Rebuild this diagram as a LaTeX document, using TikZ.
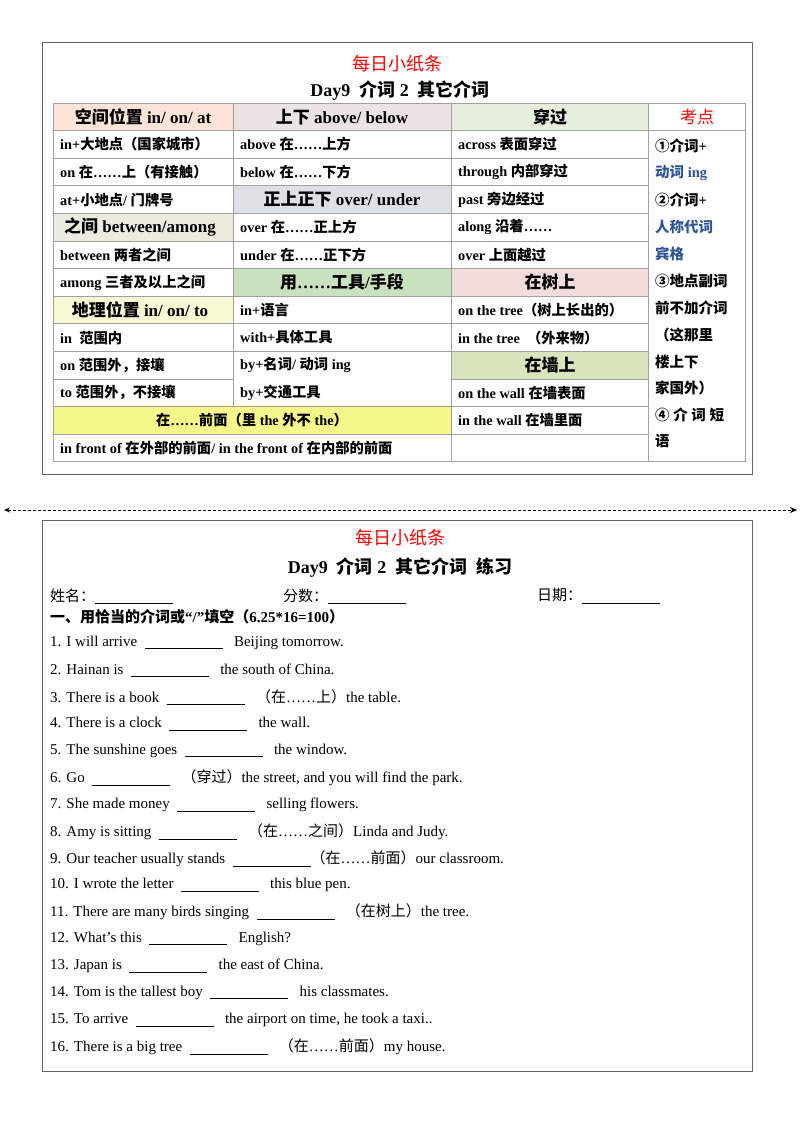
\documentclass[tikz,border=0pt]{standalone}
\usepackage{fontspec}
\setmainfont{Liberation Serif}
\newfontfamily\cjkfam{Noto Sans CJK SC}
\XeTeXinterchartokenstate=1
\newXeTeXintercharclass\CJKcls
\newcount\cc
\def\setcls#1#2{\cc=#1 \loop\ifnum\cc<#2 \XeTeXcharclass\cc=\CJKcls \advance\cc by 1 \repeat}
\setcls{"2460}{"24FF}
\setcls{"3000}{"3040}
\setcls{"4E00}{"A000}
\setcls{"FF00}{"FFF0}
\XeTeXinterchartoks 0 \CJKcls {\begingroup\cjkfam}
\XeTeXinterchartoks 4095 \CJKcls {\begingroup\cjkfam}
\XeTeXinterchartoks \CJKcls 0 {\endgroup}
\XeTeXinterchartoks \CJKcls 4095 {\endgroup}
\usetikzlibrary{arrows.meta}
\definecolor{cpeach}{HTML}{FCE4D6}
\definecolor{cpinkgray}{HTML}{ECE3E3}
\definecolor{clgreen}{HTML}{E6EFDC}
\definecolor{cgray}{HTML}{DDE1E6}
\definecolor{cbeige}{HTML}{EBEBE0}
\definecolor{cgreen}{HTML}{C8E2C0}
\definecolor{cpink}{HTML}{F2DCDB}
\definecolor{cpaley}{HTML}{F5F8D3}
\definecolor{cwall}{HTML}{D8E4BC}
\definecolor{cyel}{HTML}{F5F78A}
\definecolor{cblue}{HTML}{2F5597}
\definecolor{grid}{HTML}{A0A0A0}
\tikzset{
 body/.style={anchor=west,font=\fontsize{14.3}{16}\selectfont\bfseries,inner sep=0pt},
 hdr/.style={anchor=center,font=\fontsize{17}{19}\selectfont\bfseries,inner sep=0pt},
 side/.style={anchor=west,font=\fontsize{14.5}{16}\selectfont\bfseries,inner sep=0pt},
 item/.style={anchor=west,font=\fontsize{15}{17}\selectfont,inner sep=0pt},
 frame/.style={draw=black!60,line width=0.9pt},
 gl/.style={draw=grid,line width=0.9pt},
}
\newcommand{\blank}[1][78]{\rule[-2.5pt]{#1pt}{0.6pt}}
\begin{document}
\begin{tikzpicture}[x=1pt,y=-1pt]
\useasboundingbox (0,0) rectangle (800,1132);
\fill[white] (0,0) rectangle (800,1132);
\def\R#1{{103+27.6*(#1)}}
% upper frame
\draw[frame] (42,42) rectangle (752,474);
\node[text=red,font=\fontsize{18}{20}\selectfont] (t1) at (397,64) {每日小纸条};
\node[font=\fontsize{18}{20}\selectfont\bfseries] (t2) at (400,91) {Day9\ \ 介词 2\ \ 其它介词};
% fills
\fill[cpeach] (53,\R{0}) rectangle (233,\R{1});
\fill[cpinkgray] (233,\R{0}) rectangle (451,\R{1});
\fill[clgreen] (451,\R{0}) rectangle (648,\R{1});
\fill[cgray] (233,\R{3}) rectangle (451,\R{4});
\fill[cbeige] (53,\R{4}) rectangle (233,\R{5});
\fill[cgreen] (233,\R{6}) rectangle (451,\R{7});
\fill[cpink] (451,\R{6}) rectangle (648,\R{7});
\fill[cpaley] (53,\R{7}) rectangle (233,\R{8});
\fill[cwall] (451,\R{9}) rectangle (648,\R{10});
\fill[cyel] (53,\R{11}) rectangle (451,\R{12});
% grid
\foreach \i in {0,1,...,9,11,12,13} \draw[gl] (53,\R{\i}) -- (648,\R{\i});
\draw[gl] (53,\R{10}) -- (233,\R{10});
\draw[gl] (451,\R{10}) -- (648,\R{10});
\foreach \i in {0,1,13} \draw[gl] (648,\R{\i}) -- (745,\R{\i});
\draw[gl] (53,\R{0}) -- (53,\R{13});
\draw[gl] (233,\R{0}) -- (233,\R{11});
\draw[gl] (451,\R{0}) -- (451,\R{13});
\draw[gl] (648,\R{0}) -- (648,\R{13});
\draw[gl] (745,\R{0}) -- (745,\R{13});
% headers
\node[hdr] (h1) at (143,{103+27.6*0.5}) {空间位置 in/ on/ at};
\node[hdr] (h2) at (342,{103+27.6*0.5}) {上下 above/ below};
\node[hdr] (h3) at (550,{103+27.6*0.5}) {穿过};
\node[hdr,text=red,font=\fontsize{17}{19}\selectfont] (h4) at (697,{103+27.6*0.5}) {考点};
\node[hdr] (h5) at (342,{103+27.6*3.5}) {正上正下 over/ under};
\node[hdr] (h6) at (140,{103+27.6*4.5}) {之间 between/among};
\node[hdr] (h7) at (342,{103+27.6*6.5}) {用……工具/手段};
\node[hdr] (h8) at (550,{103+27.6*6.5}) {在树上};
\node[hdr] (h9) at (140,{103+27.6*7.5}) {地理位置 in/ on/ to};
\node[hdr] (h10) at (550,{103+27.6*9.5}) {在墙上};
\node[body,anchor=center] (h11) at (252,{103+27.6*11.5}) {在……前面（里 the 外不 the）};
% col1
\node[body] (a1) at (60,{103+27.6*1.5}) {in+大地点（国家城市）};
\node[body] (a2) at (60,{103+27.6*2.5}) {on 在……上（有接触）};
\node[body] (a3) at (60,{103+27.6*3.5}) {at+小地点/ 门牌号};
\node[body] (a5) at (60,{103+27.6*5.5}) {between 两者之间};
\node[body] (a6) at (60,{103+27.6*6.5}) {among 三者及以上之间};
\node[body] (a8) at (60,{103+27.6*8.5}) {in\ \ 范围内};
\node[body] (a9) at (60,{103+27.6*9.5}) {on 范围外，接壤};
\node[body] (a10) at (60,{103+27.6*10.5}) {to 范围外，不接壤};
\node[body] (a12) at (60,{103+27.6*12.5}) {in front of 在外部的前面/ in the front of 在内部的前面};
% col2
\node[body] (b1) at (240,{103+27.6*1.5}) {above 在……上方};
\node[body] (b2) at (240,{103+27.6*2.5}) {below 在……下方};
\node[body] (b4) at (240,{103+27.6*4.5}) {over 在……正上方};
\node[body] (b5) at (240,{103+27.6*5.5}) {under 在……正下方};
\node[body] (b7) at (240,{103+27.6*7.5}) {in+语言};
\node[body] (b8) at (240,{103+27.6*8.5}) {with+具体工具};
\node[body] (b9) at (240,{103+27.6*9.5}) {by+名词/ 动词 ing};
\node[body] (b10) at (240,{103+27.6*10.5}) {by+交通工具};
% col3
\node[body] (c1) at (458,{103+27.6*1.5}) {across 表面穿过};
\node[body] (c2) at (458,{103+27.6*2.5}) {through 内部穿过};
\node[body] (c3) at (458,{103+27.6*3.5}) {past 旁边经过};
\node[body] (c4) at (458,{103+27.6*4.5}) {along 沿着……};
\node[body] (c5) at (458,{103+27.6*5.5}) {over 上面越过};
\node[body] (c7) at (458,{103+27.6*7.5}) {on the tree（树上长出的）};
\node[body] (c8) at (458,{103+27.6*8.5}) {in the tree\ \ （外来物）};
\node[body] (c10) at (458,{103+27.6*10.5}) {on the wall 在墙表面};
\node[body] (c11) at (458,{103+27.6*11.5}) {in the wall 在墙里面};
% col4
\node[side] (d1) at (655,146) {①介词+};
\node[side,text=cblue] (d2) at (655,173) {动词 ing};
\node[side] (d3) at (655,200) {②介词+};
\node[side,text=cblue] (d4) at (655,227) {人称代词};
\node[side,text=cblue] (d5) at (655,254) {宾格};
\node[side] (d6) at (655,281) {③地点副词};
\node[side] (d7) at (655,308) {前不加介词};
\node[side] (d8) at (655,335) {（这那里};
\node[side] (d9) at (655,362) {楼上下};
\node[side] (d10) at (655,388) {家国外）};
\node[side] (d11) at (655,415) {④\ 介\ 词\ 短};
\node[side] (d12) at (655,441) {语};
% separator
\coordinate (sl) at (4,510);
\coordinate (sr) at (797,510);
\draw[densely dashed,line width=0.7pt,{Stealth[length=6pt,width=5pt]}-{Stealth[length=7pt,width=6pt]}] (sl) -- (sr);
% lower frame
\draw[frame] (42,520) rectangle (752,1071);
\node[text=red,font=\fontsize{18}{20}\selectfont] (u1) at (400,538) {每日小纸条};
\node[font=\fontsize{18}{20}\selectfont\bfseries] (u2) at (400,568) {Day9\ \ 介词 2\ \ 其它介词\ \ 练习};
\node[item] (n1) at (50,596) {姓名：\blank};
\node[item] (n2) at (283,596) {分数：\blank};
\node[item] (n3) at (537,596) {日期：\blank};
\node[item,font=\fontsize{15}{17}\selectfont\bfseries] (q0) at (50,617) {一、用恰当的介词或“/”填空（6.25*16=100）};
\node[item] (q1) at (50,643) {1. I will arrive\ \ \blank\ \ \ Beijing tomorrow.};
\node[item] (q2) at (50,670) {2. Hainan is\ \ \blank\ \ \ the south of China.};
\node[item] (q3) at (50,697) {3. There is a book\ \ \blank\ \ \ （在……上）the table.};
\node[item] (q4) at (50,724) {4. There is a clock\ \ \blank\ \ \ the wall.};
\node[item] (q5) at (50,751) {5. The sunshine goes\ \ \blank\ \ \ the window.};
\node[item] (q6) at (50,778) {6. Go\ \ \blank\ \ \ （穿过）the street, and you will find the park.};
\node[item] (q7) at (50,805) {7. She made money\ \ \blank\ \ \ selling flowers.};
\node[item] (q8) at (50,832) {8. Amy is sitting\ \ \blank\ \ \ （在……之间）Linda and Judy.};
\node[item] (q9) at (50,859) {9. Our teacher usually stands\ \ \blank（在……前面）our classroom.};
\node[item] (q10) at (50,885) {10. I wrote the letter\ \ \blank\ \ \ this blue pen.};
\node[item] (q11) at (50,912) {11. There are many birds singing\ \ \blank\ \ \ （在树上）the tree.};
\node[item] (q12) at (50,939) {12. What’s this\ \ \blank\ \ \ English?};
\node[item] (q13) at (50,966) {13. Japan is\ \ \blank\ \ \ the east of China.};
\node[item] (q14) at (50,993) {14. Tom is the tallest boy\ \ \blank\ \ \ his classmates.};
\node[item] (q15) at (50,1020) {15. To arrive\ \ \blank\ \ \ the airport on time, he took a taxi..};
\node[item] (q16) at (50,1047) {16. There is a big tree\ \ \blank\ \ \ （在……前面）my house.};
\end{tikzpicture}
\end{document}
